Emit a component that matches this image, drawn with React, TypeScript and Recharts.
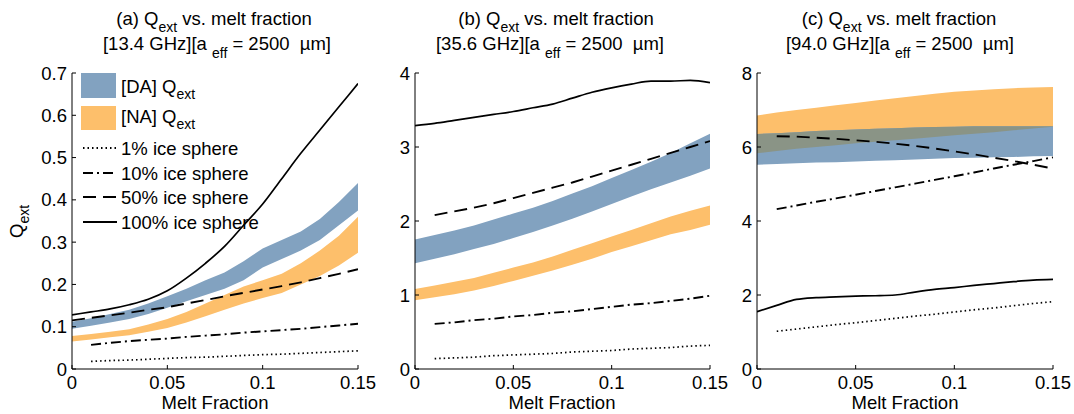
import React from "react";
import { Area, ComposedChart, Line, XAxis, YAxis } from "recharts";

const FONT = "'Liberation Sans', Arial, Helvetica, sans-serif";
const FS = 18.5;
const SUB = 14;
const BLUE = "#82a2c0";
const ORANGE = "#fdbf6b";
const GREY = "#8a9486";

// melt fraction grid
const meltFraction = [0, 0.01, 0.02, 0.03, 0.04, 0.05, 0.06, 0.07, 0.08, 0.09, 0.1, 0.11, 0.12, 0.13, 0.14, 0.15];
const xTicks = [0, 0.05, 0.1, 0.15];

// (a) 13.4 GHz
const aDaLow = [0.095, 0.102, 0.11, 0.118, 0.13, 0.145, 0.16, 0.175, 0.19, 0.21, 0.24, 0.26, 0.28, 0.305, 0.34, 0.375];
const aDaHigh = [0.112, 0.12, 0.13, 0.14, 0.155, 0.172, 0.19, 0.21, 0.228, 0.255, 0.285, 0.305, 0.325, 0.355, 0.395, 0.44];
const aNaLow = [0.065, 0.07, 0.075, 0.08, 0.088, 0.097, 0.11, 0.125, 0.14, 0.155, 0.168, 0.18, 0.2, 0.22, 0.245, 0.275];
const aNaHigh = [0.078, 0.083, 0.088, 0.094, 0.105, 0.118, 0.135, 0.155, 0.175, 0.195, 0.21, 0.225, 0.25, 0.28, 0.315, 0.36];
const aSphere1 = [null, 0.018, 0.02, 0.021, 0.023, 0.025, 0.027, 0.028, 0.03, 0.032, 0.034, 0.035, 0.037, 0.039, 0.041, 0.043];
const aSphere10 = [null, 0.057, 0.062, 0.066, 0.069, 0.072, 0.076, 0.079, 0.082, 0.086, 0.089, 0.092, 0.095, 0.099, 0.103, 0.107];
const aSphere50 = [0.115, 0.121, 0.127, 0.133, 0.14, 0.146, 0.155, 0.163, 0.172, 0.18, 0.188, 0.196, 0.205, 0.215, 0.225, 0.236];
const aSphere100 = [0.128, 0.135, 0.142, 0.152, 0.165, 0.185, 0.215, 0.25, 0.29, 0.34, 0.39, 0.45, 0.51, 0.565, 0.62, 0.675];
const aYTicks = [0, 0.1, 0.2, 0.3, 0.4, 0.5, 0.6, 0.7];

// (b) 35.6 GHz
const bDaLow = [1.43, 1.49, 1.55, 1.62, 1.69, 1.77, 1.85, 1.94, 2.03, 2.13, 2.23, 2.33, 2.43, 2.52, 2.61, 2.71];
const bDaHigh = [1.75, 1.81, 1.87, 1.94, 2.02, 2.1, 2.18, 2.27, 2.37, 2.47, 2.58, 2.69, 2.8, 2.92, 3.05, 3.18];
const bNaLow = [0.93, 0.97, 1.01, 1.06, 1.12, 1.19, 1.26, 1.33, 1.41, 1.49, 1.58, 1.66, 1.74, 1.82, 1.88, 1.95];
const bNaHigh = [1.08, 1.13, 1.18, 1.23, 1.3, 1.37, 1.44, 1.52, 1.61, 1.7, 1.79, 1.88, 1.97, 2.06, 2.14, 2.21];
const bSphere1 = [null, 0.14, 0.15, 0.16, 0.18, 0.19, 0.2, 0.21, 0.23, 0.24, 0.25, 0.27, 0.28, 0.29, 0.31, 0.32];
const bSphere10 = [null, 0.61, 0.63, 0.66, 0.68, 0.71, 0.73, 0.76, 0.78, 0.81, 0.84, 0.87, 0.89, 0.92, 0.95, 0.99];
const bSphere50 = [null, 2.08, 2.13, 2.18, 2.24, 2.31, 2.38, 2.45, 2.52, 2.6, 2.68, 2.76, 2.84, 2.92, 3.0, 3.08];
const bSphere100 = [3.29, 3.32, 3.36, 3.4, 3.44, 3.48, 3.53, 3.58, 3.66, 3.74, 3.8, 3.85, 3.89, 3.89, 3.9, 3.87];
const bYTicks = [0, 1, 2, 3, 4];

// (c) 94.0 GHz
const cDaLow = [5.52, 5.54, 5.56, 5.58, 5.59, 5.61, 5.63, 5.64, 5.66, 5.68, 5.7, 5.71, 5.72, 5.73, 5.75, 5.76];
const cDaHigh = [6.35, 6.37, 6.4, 6.43, 6.45, 6.47, 6.49, 6.51, 6.53, 6.54, 6.55, 6.56, 6.56, 6.56, 6.56, 6.56];
const cNaLow = [5.83, 5.89, 5.95, 6.0, 6.05, 6.1, 6.14, 6.18, 6.22, 6.27, 6.32, 6.36, 6.4, 6.45, 6.5, 6.55];
const cNaHigh = [6.85, 6.93, 7.0, 7.06, 7.13, 7.19, 7.26, 7.32, 7.38, 7.44, 7.49, 7.53, 7.56, 7.59, 7.61, 7.62];
const cSphere1 = [null, 1.02, 1.08, 1.14, 1.2, 1.25, 1.31, 1.37, 1.43, 1.48, 1.54, 1.6, 1.65, 1.71, 1.77, 1.82];
const cSphere10 = [null, 4.32, 4.42, 4.52, 4.61, 4.71, 4.81, 4.91, 5.01, 5.11, 5.21, 5.31, 5.42, 5.52, 5.62, 5.72];
const cSphere50 = [null, 6.29, 6.28, 6.25, 6.22, 6.18, 6.14, 6.09, 6.03, 5.96, 5.88, 5.8, 5.71, 5.62, 5.52, 5.42];
const cSphere100 = [1.55, 1.72, 1.88, 1.93, 1.95, 1.97, 1.98, 2.0, 2.08, 2.15, 2.2, 2.26, 2.31, 2.36, 2.4, 2.42];
const cYTicks = [0, 2, 4, 6, 8];

type Num = number | null;

function buildRows(daLo: number[], daHi: number[], naLo: number[], naHi: number[], s1: Num[], s10: Num[], s50: Num[], s100: Num[], overlap = false) {
  return meltFraction.map((x, i) => ({
    x,
    da: [daLo[i], daHi[i]],
    na: [naLo[i], naHi[i]],
    ov: overlap && naLo[i] < daHi[i] ? [naLo[i], daHi[i]] : null,
    s1: s1[i],
    s10: s10[i],
    s50: s50[i],
    s100: s100[i],
  }));
}

const panelA = buildRows(aDaLow, aDaHigh, aNaLow, aNaHigh, aSphere1, aSphere10, aSphere50, aSphere100);
const panelB = buildRows(bDaLow, bDaHigh, bNaLow, bNaHigh, bSphere1, bSphere10, bSphere50, bSphere100);
const panelC = buildRows(cDaLow, cDaHigh, cNaLow, cNaHigh, cSphere1, cSphere10, cSphere50, cSphere100, true);

const DOT = "1.5 3";
const DASHDOT = "10 4 2 4";
const DASH = "13 7";

function YTick(props: any) {
  const { x, y, payload } = props;
  const ax = x + 5;
  return (
    <g>
      <line x1={ax} x2={ax + 4} y1={y} y2={y} stroke="#000" strokeWidth={1} />
      <text x={x} y={y + 6.5} textAnchor="end" fontSize={FS} fontFamily={FONT} fill="#000">
        {String(payload.value)}
      </text>
    </g>
  );
}

function XTick(props: any) {
  const { x, y, payload } = props;
  const ay = y - 4;
  return (
    <g>
      <line x1={x} x2={x} y1={ay} y2={ay - 4} stroke="#000" strokeWidth={1} />
      <text x={x} y={y + 16} textAnchor="middle" fontSize={FS} fontFamily={FONT} fill="#000">
        {String(payload.value)}
      </text>
    </g>
  );
}

function Panel({ data, left, width, yWidth, yMax, yTicks }: any) {
  return (
    <div style={{ position: "absolute", left, top: 0 }}>
      <ComposedChart width={width} height={414} data={data} margin={{ top: 73, right: 21, bottom: 0, left: 0 }}>
        <XAxis
          dataKey="x"
          type="number"
          domain={[0, 0.15]}
          ticks={xTicks}
          height={45}
          tickSize={0}
          tickMargin={4}
          tick={<XTick />}
          axisLine={{ stroke: "#000" }}
          tickLine={false}
          allowDataOverflow
        />
        <YAxis
          type="number"
          domain={[0, yMax]}
          ticks={yTicks}
          width={yWidth}
          tickSize={0}
          tickMargin={5}
          tick={<YTick />}
          axisLine={{ stroke: "#000" }}
          tickLine={false}
          allowDataOverflow
        />
        <Area dataKey="na" type="linear" stroke="none" fill={ORANGE} fillOpacity={1} isAnimationActive={false} dot={false} activeDot={false} />
        <Area dataKey="da" type="linear" stroke="none" fill={BLUE} fillOpacity={1} isAnimationActive={false} dot={false} activeDot={false} />
        <Area dataKey="ov" type="linear" stroke="none" fill={GREY} fillOpacity={1} isAnimationActive={false} dot={false} activeDot={false} />
        <Line dataKey="s1" type="linear" stroke="#000" strokeWidth={1.7} strokeDasharray={DOT} dot={false} activeDot={false} isAnimationActive={false} />
        <Line dataKey="s10" type="linear" stroke="#000" strokeWidth={1.9} strokeDasharray={DASHDOT} dot={false} activeDot={false} isAnimationActive={false} />
        <Line dataKey="s50" type="linear" stroke="#000" strokeWidth={1.9} strokeDasharray={DASH} dot={false} activeDot={false} isAnimationActive={false} />
        <Line dataKey="s100" type="monotone" stroke="#000" strokeWidth={1.7} dot={false} activeDot={false} isAnimationActive={false} />
      </ComposedChart>
    </div>
  );
}

function Title({ cx1, cx2, tag, freq }: { cx1: number; cx2: number; tag: string; freq: string }) {
  return (
    <g fontFamily={FONT} fontSize={FS} fill="#000">
      <text x={cx1} y={25} textAnchor="middle" xmlSpace="preserve">
        {`(${tag}) Q`}
        <tspan dy={7} fontSize={SUB}>ext</tspan>
        <tspan dy={-7}>{" vs. melt fraction"}</tspan>
      </text>
      <text x={cx2} y={50} textAnchor="middle" xmlSpace="preserve">
        {`[${freq} GHz][a `}
        <tspan dy={8} fontSize={SUB}>eff</tspan>
        <tspan dy={-8}>{" = 2500  \u00b5m]"}</tspan>
      </text>
    </g>
  );
}

function LegendRow({ y, dash, label }: { y: number; dash?: string; label: string }) {
  return (
    <g>
      <line x1={83} x2={117} y1={y} y2={y} stroke="#000" strokeWidth={1.8} strokeDasharray={dash} />
      <text x={121} y={y + 6.5} fontFamily={FONT} fontSize={FS} fill="#000">{label}</text>
    </g>
  );
}

function Overlay() {
  return (
    <svg width={1074} height={414} style={{ position: "absolute", left: 0, top: 0, pointerEvents: "none" }}>
      <Title cx1={214} cx2={217} tag="a" freq="13.4" />
      <Title cx1={556} cx2={550} tag="b" freq="35.6" />
      <Title cx1={899} cx2={900} tag="c" freq="94.0" />

      <text transform="translate(23,238) rotate(-90)" fontFamily={FONT} fontSize={FS} fill="#000">
        Q<tspan dy={6} fontSize={SUB}>ext</tspan>
      </text>

      {[215, 562, 905].map((cx) => (
        <text key={cx} x={cx} y={409} textAnchor="middle" fontFamily={FONT} fontSize={FS} fill="#000">
          Melt Fraction
        </text>
      ))}

      <rect x={81} y={73} width={35} height={25} fill={BLUE} />
      <text x={121} y={93} fontFamily={FONT} fontSize={FS} fill="#000">
        [DA] Q<tspan dy={6} fontSize={SUB}>ext</tspan>
      </text>
      <rect x={81} y={106} width={35} height={24} fill={ORANGE} />
      <text x={121} y={123} fontFamily={FONT} fontSize={FS} fill="#000">
        [NA] Q<tspan dy={6} fontSize={SUB}>ext</tspan>
      </text>
      <LegendRow y={148} dash={DOT} label="1% ice sphere" />
      <LegendRow y={173} dash={DASHDOT} label="10% ice sphere" />
      <LegendRow y={197} dash={DASH} label="50% ice sphere" />
      <LegendRow y={222} label="100% ice sphere" />
    </svg>
  );
}

export default function App() {
  return (
    <div style={{ position: "absolute", left: 0, top: 0, width: 1074, height: 414, background: "#fff", fontFamily: FONT }}>
      <Panel data={panelA} left={0} width={379} yWidth={72} yMax={0.7} yTicks={aYTicks} />
      <Panel data={panelB} left={365} width={366} yWidth={50} yMax={4} yTicks={bYTicks} />
      <Panel data={panelC} left={715} width={359} yWidth={42} yMax={8} yTicks={cYTicks} />
      <Overlay />
    </div>
  );
}
